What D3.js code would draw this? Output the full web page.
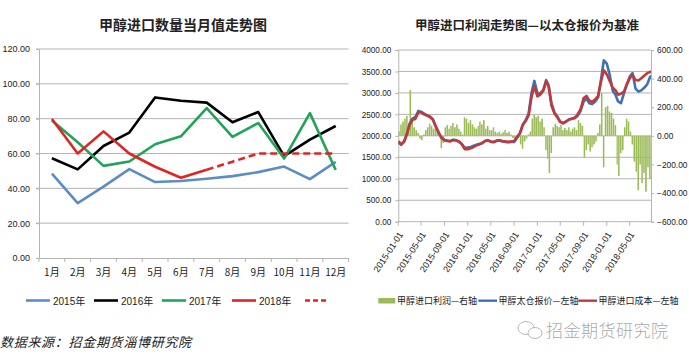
<!DOCTYPE html>
<html><head><meta charset="utf-8">
<script src="https://cdn.jsdelivr.net/npm/d3@7"></script>
<style>
body{margin:0;background:#fff;}
svg{display:block;}
text{font-family:"Liberation Sans",Arial,"Noto Sans CJK SC",sans-serif;fill:#222;}
.cjk{font-family:"Noto Sans CJK SC",sans-serif;}
</style></head><body>
<svg id="c" width="689" height="359"></svg>
<script>
// ---------- Left chart data ----------
const months = ['1月','2月','3月','4月','5月','6月','7月','8月','9月','10月','11月','12月'];
const imp2015 = [48.5,31.5,41,51,43.6,44.2,45.5,47,49.3,52.5,45.3,55.2];
const imp2016 = [57.3,50.9,64.3,72,92.2,90.3,89.2,77.9,83.8,58.5,68,75.8];
const imp2017 = [79,66.5,52.9,55.4,65.3,69.9,86.1,69.5,77.5,57.1,83.2,50.5];
const imp2018 = [79.8,60,72.7,60,52.4,46.1,50.7,null,null,null,null,null];
const imp2018f = [null,null,null,null,null,null,50.7,55.3,60,60,60,60];
const leftTicks = [0,20,40,60,80,100,120];
const leftLegend = ['2015年','2016年','2017年','2018年',''];

// ---------- Right chart data ----------
// half-monthly (1st & 16th) from 2015-01-01
const costPrice = [
 1880,1800,1880,2050,2250,2370,2400,2540,2560,2520,2470,2440,2380,2230,2080,1950,1900,1880,1870,1900,1900,1870,1800,1690,
 1690,1710,1740,1780,1800,1830,1880,1900,1870,1860,1890,1900,1880,1870,1860,1870,1880,1980,2060,2250,2350,2480,2900,3160,
 2920,2960,3050,3270,3150,2700,2520,2430,2320,2290,2340,2380,2400,2420,2500,2620,2880,2930,2820,2790,2850,2930,3260,3530,
 3430,3280,3120,3060,2960,2980,3030,3200,3340,3420,3300,3290,3340,3400,3460,3490,3500];
const tcPrice = [
 1850,1790,1860,2060,2280,2400,2440,2580,2550,2500,2480,2450,2390,2230,2070,1960,1900,1890,1880,1910,1890,1860,1810,1720,
 1730,1740,1770,1790,1810,1830,1880,1890,1860,1850,1880,1890,1870,1860,1850,1860,1860,1950,2050,2260,2370,2520,3000,3280,
 3000,2990,3070,3300,3180,2760,2540,2450,2330,2300,2330,2380,2400,2410,2470,2580,2800,2870,2760,2740,2800,2900,3300,3760,
 3680,3420,3050,2950,2800,2760,2990,3200,3380,3460,3100,3030,3060,3120,3200,3370,3420];
// 10-day steps (1st, 11th, 21st) from 2015-01-01
const importProfit = [
 30,80,100, 120,140,90, 320,110,60, 40,20,-20, -30,10,40, 60,85,70, 50,60,30, 20,-85,-50, 60,75,50, 70,90,60, 80,50,30, 10,130,120,
 90,110,80, 60,50,70, 100,80,110, 50,70,40, 40,60,30, 20,30,15, 25,40,20, 30,10,-15, -20,-10,10, -60,-90,-40, -20,10,30, 120,150,130,
 140,100,120, 60,-100,-160, -260,-120,60, 85,70,60, 75,40,55, 40,60,30, 50,60,40, 110,90,70, -150,-100,-60, -110,-80,-60, -40,20,80, 300,-220,200,
 210,170,160, 120,75,-200, -280,-120,-100, 60,120,100, 30,-60,-180, -250,-380,-200, -330,-260,-390, -220,-300,-250];
const leftAxisTicks = [0,500,1000,1500,2000,2500,3000,3500,4000];
const rightAxisTicks = [-600,-400,-200,0,200,400,600];
const dateTicks = ['2015-01-01','2015-05-01','2015-09-01','2016-01-01','2016-05-01','2016-09-01','2017-01-01','2017-05-01','2017-09-01','2018-01-01','2018-05-01'];
const rightLegend = ['甲醇进口利润—右轴','甲醇太仓报价—左轴','甲醇进口成本—左轴'];

const svg = d3.select('#c');
const grid = '#b4b4b4';

// ================= LEFT CHART =================
{
 const x = d3.scaleBand().domain(months).range([39,348.6]).padding(0);
 const y = d3.scaleLinear().domain([0,120]).range([258,49]);
 const g = svg.append('g');
 g.append('text').attr('class','cjk').attr('x',183).attr('y',30).attr('text-anchor','middle')
  .attr('font-size',14).attr('font-weight','bold').text('甲醇进口数量当月值走势图');
 g.selectAll('.gl').data(leftTicks.filter(d=>d>0)).enter().append('line')
  .attr('x1',36).attr('x2',348.6).attr('y1',d=>y(d)).attr('y2',d=>y(d)).attr('stroke',grid).attr('stroke-width',1);
 const ya = d3.axisLeft(y).tickValues(leftTicks).tickFormat(d3.format('.2f')).tickSize(3);
 const yg = g.append('g').attr('transform','translate(39,0)').call(ya);
 yg.select('.domain').attr('stroke',grid);
 yg.selectAll('.tick line').attr('stroke',grid);
 yg.selectAll('text').attr('font-size',9).attr('x',-9).attr('fill','#222');
 const xa = d3.axisBottom(x).tickSize(0);
 const xg = g.append('g').attr('transform','translate(0,258)').call(xa);
 xg.select('.domain').attr('stroke',grid);
 xg.selectAll('text').attr('class','cjk').attr('font-size',10).attr('dy','1.45em').attr('fill','#222');
 g.selectAll('.xt').data(months.concat(['end'])).enter().append('line')
  .attr('x1',(d,i)=>39+i*x.bandwidth()).attr('x2',(d,i)=>39+i*x.bandwidth())
  .attr('y1',258).attr('y2',262).attr('stroke',grid);
 const line = d3.line().defined(d=>d!=null).x((d,i)=>x(months[i])+x.bandwidth()/2).y(d=>y(d));
 const series = [
  {v:imp2015,c:'#5b8cc6',dash:null},
  {v:imp2016,c:'#000000',dash:null},
  {v:imp2017,c:'#22a35a',dash:null},
  {v:imp2018,c:'#e02424',dash:null},
  {v:imp2018f,c:'#e02424',dash:'7,4'}];
 series.forEach(s=>{
  g.append('path').datum(s.v).attr('d',line).attr('fill','none').attr('stroke',s.c)
   .attr('stroke-width',2.6).attr('stroke-linejoin','round').attr('stroke-dasharray',s.dash);
 });
 const lx = [26,94,162,232,305];
 series.forEach((s,i)=>{
  g.append('line').attr('x1',lx[i]).attr('x2',lx[i]+24).attr('y1',300.5).attr('y2',300.5)
   .attr('stroke',s.c).attr('stroke-width',2.6).attr('stroke-dasharray',s.dash?'5,3':null);
  if(leftLegend[i]) g.append('text').attr('x',lx[i]+27).attr('y',304.5).attr('font-size',10).text(leftLegend[i]);
 });
 g.append('text').attr('class','cjk').attr('x',0).attr('y',347).attr('font-size',13)
  .attr('font-style','italic').attr('letter-spacing',0.7).text('数据来源：招金期货淄博研究院');
}

// ================= RIGHT CHART =================
{
 const parse = d3.timeParse('%Y-%m-%d');
 const x0 = 398.3, x1 = 651, yb = 221.7, yt = 50;
 const x = d3.scaleTime().domain([parse('2015-01-01'),parse('2018-08-21')]).range([x0,x1]);
 const yL = d3.scaleLinear().domain([0,4000]).range([yb,yt]);
 const yR = d3.scaleLinear().domain([-600,600]).range([yb,yt]);
 const g = svg.append('g');
 g.append('text').attr('class','cjk').attr('x',527).attr('y',30).attr('text-anchor','middle')
  .attr('font-size',12.5).attr('font-weight','bold').text('甲醇进口利润走势图—以太仓报价为基准');
 g.selectAll('.gl').data(leftAxisTicks.filter(d=>d>0)).enter().append('line')
  .attr('x1',x0).attr('x2',x1).attr('y1',d=>yL(d)).attr('y2',d=>yL(d)).attr('stroke',grid);
 const la = d3.axisLeft(yL).tickValues(leftAxisTicks).tickFormat(d3.format('.2f')).tickSize(3);
 const lg = g.append('g').attr('transform',`translate(${x0},0)`).call(la);
 lg.select('.domain').attr('stroke',grid); lg.selectAll('.tick line').attr('stroke',grid);
 lg.selectAll('text').attr('font-size',8.2).attr('x',-7).attr('fill','#222');
 const ra = d3.axisRight(yR).tickValues(rightAxisTicks).tickFormat(d3.format('.2f')).tickSize(3);
 const rg = g.append('g').attr('transform',`translate(${x1},0)`).call(ra);
 rg.select('.domain').attr('stroke',grid); rg.selectAll('.tick line').attr('stroke',grid);
 rg.selectAll('text').attr('font-size',8.4).attr('x',6).attr('fill','#222');
 svg.append('clipPath').attr('id','pc').append('rect').attr('x',x0).attr('y',yt-10).attr('width',x1-x0).attr('height',yb-yt+20);
 const pg = g.append('g').attr('clip-path','url(#pc)');
 const pDates = importProfit.map((d,i)=>new Date(2015, Math.floor(i/3), 1+10*(i%3)));
 pg.selectAll('.bar').data(importProfit).enter().append('rect')
  .attr('x',(d,i)=>x(pDates[i]))
  .attr('width',(d,i)=>{const n=new Date(2015,Math.floor((i+1)/3),1+10*((i+1)%3));return Math.max(0.5,(x(n)-x(pDates[i]))*0.8);})
  .attr('y',d=>Math.min(yR(d),yR(0))).attr('height',d=>Math.abs(yR(d)-yR(0)))
  .attr('fill','#9bbb59');
 const hDates = costPrice.map((d,i)=>new Date(2015, Math.floor(i/2), i%2?16:1));
 const ln = d3.line().x((d,i)=>x(hDates[i])).y(d=>yL(d));
 pg.append('path').datum(tcPrice).attr('d',ln).attr('fill','none').attr('stroke','#3f72b5').attr('stroke-width',2.6).attr('stroke-linejoin','round');
 pg.append('path').datum(costPrice).attr('d',ln).attr('fill','none').attr('stroke','#c0393b').attr('stroke-width',2.6).attr('stroke-linejoin','round');
 g.append('line').attr('x1',x0).attr('x2',x1).attr('y1',yb).attr('y2',yb).attr('stroke',grid);
 dateTicks.forEach(t=>{
  const xx = x(parse(t));
  g.append('line').attr('x1',xx).attr('x2',xx).attr('y1',yb).attr('y2',yb+4).attr('stroke',grid);
  g.append('text').attr('transform',`translate(${xx+2.5},${yb+11}) rotate(-57)`).attr('text-anchor','end')
   .attr('dy','0.35em').attr('font-size',9).text(t);
 });
 g.append('rect').attr('x',378.3).attr('y',298).attr('width',17).attr('height',5.5).attr('fill','#9bbb59');
 g.append('text').attr('class','cjk').attr('x',397).attr('y',304).attr('font-size',9).text(rightLegend[0]);
 g.append('line').attr('x1',478.3).attr('x2',497).attr('y1',300.7).attr('y2',300.7).attr('stroke','#3f72b5').attr('stroke-width',2.4);
 g.append('text').attr('class','cjk').attr('x',498.5).attr('y',304).attr('font-size',9).text(rightLegend[1]);
 g.append('line').attr('x1',578.3).attr('x2',597).attr('y1',300.7).attr('y2',300.7).attr('stroke','#c0393b').attr('stroke-width',2.4);
 g.append('text').attr('class','cjk').attr('x',598.5).attr('y',304).attr('font-size',9).text(rightLegend[2]);
 const wm = g.append('g').attr('stroke','#b8b8b8').attr('fill','none').attr('stroke-width',1);
 wm.append('ellipse').attr('cx',526).attr('cy',328).attr('rx',8).attr('ry',6.5);
 wm.append('ellipse').attr('cx',535).attr('cy',333).attr('rx',7).attr('ry',5.5).attr('fill','#fff');
 g.append('text').attr('class','cjk').attr('x',546).attr('y',337).attr('font-size',17)
  .attr('font-weight',300).style('fill','#aaaaaa').attr('letter-spacing',0.5).text('招金期货研究院');
}
</script>
</body></html>
